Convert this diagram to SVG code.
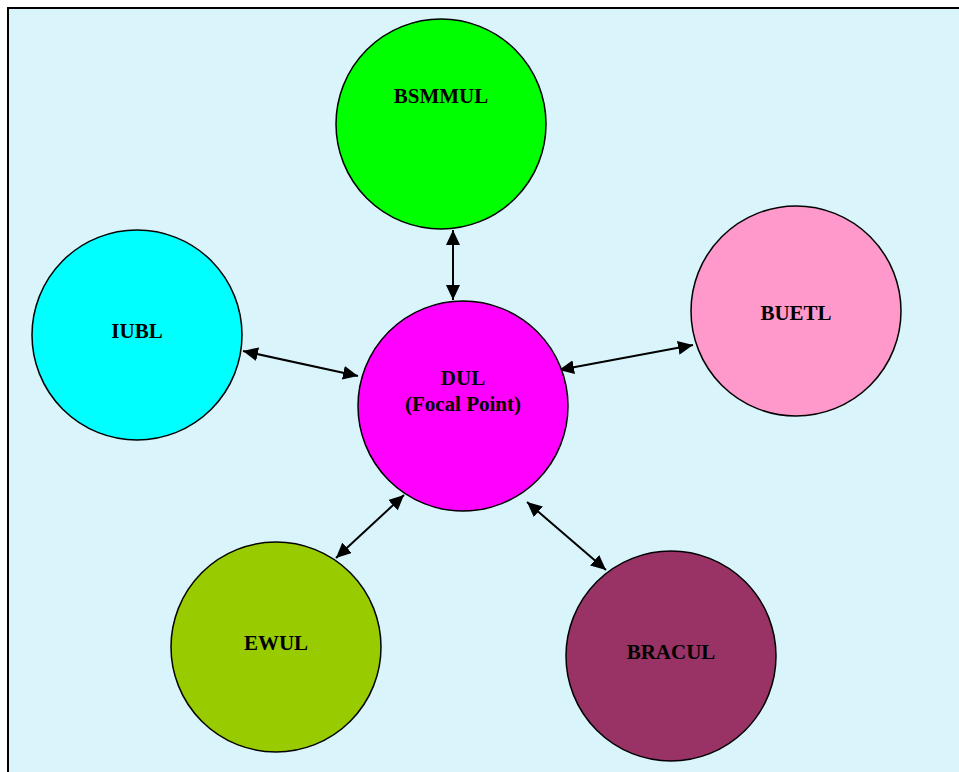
<svg xmlns="http://www.w3.org/2000/svg" width="959" height="772" viewBox="0 0 959 772">
  <style>
    .node circle { stroke: #000; stroke-width: 1.5; }
    .label { font-family: "Liberation Serif", "Times New Roman", serif; font-weight: bold; font-size: 21px; fill: #000; text-anchor: middle; }
    .link { stroke: #000; stroke-width: 2; fill: none; marker-start: url(#head); marker-end: url(#head); }
  </style>
  <defs>
    <!-- filled triangular arrowhead used at both ends of every link -->
    <marker id="head" viewBox="0 0 10 10" refX="10" refY="5" markerWidth="15" markerHeight="14" orient="auto-start-reverse" markerUnits="userSpaceOnUse" preserveAspectRatio="none">
      <path d="M0,0 L10,5 L0,10 Z" fill="#000"/>
    </marker>
  </defs>
  <rect x="8" y="8" width="960" height="780" fill="#D9F5FB" stroke="#000" stroke-width="2"/>

  <g id="connectors">
    <line class="link" x1="453" y1="230" x2="453" y2="300"/>
    <line class="link" x1="243" y1="351" x2="358" y2="376"/>
    <line class="link" x1="559" y1="370" x2="693" y2="345"/>
    <line class="link" x1="404" y1="495" x2="336" y2="558"/>
    <line class="link" x1="527" y1="502" x2="606" y2="570"/>
  </g>

  <g id="bsmmul" class="node">
    <circle cx="441" cy="124" r="105" fill="#00FF00"/>
    <text class="label" x="441" y="103">BSMMUL</text>
  </g>
  <g id="iubl" class="node">
    <circle cx="137" cy="335" r="105" fill="#00FFFF"/>
    <text class="label" x="137" y="338">IUBL</text>
  </g>
  <g id="dul" class="node">
    <circle cx="463" cy="406" r="105" fill="#FF00FF"/>
    <text class="label" x="463" y="385">DUL</text>
    <text class="label" x="463" y="411">(Focal Point)</text>
  </g>
  <g id="buetl" class="node">
    <circle cx="796" cy="311" r="105" fill="#FF99CC"/>
    <text class="label" x="796" y="320">BUETL</text>
  </g>
  <g id="ewul" class="node">
    <circle cx="276" cy="647" r="105" fill="#99CC00"/>
    <text class="label" x="276" y="650">EWUL</text>
  </g>
  <g id="bracul" class="node">
    <circle cx="671" cy="656" r="105" fill="#993366"/>
    <text class="label" x="671" y="659">BRACUL</text>
  </g>
</svg>
